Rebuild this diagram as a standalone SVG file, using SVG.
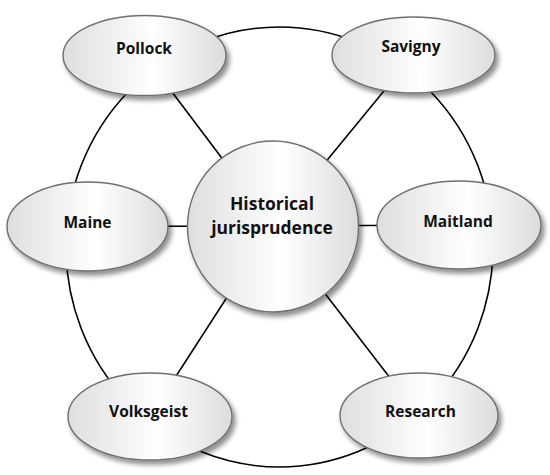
<svg xmlns="http://www.w3.org/2000/svg" width="550" height="475" viewBox="0 0 550 475">
  <defs>
    <linearGradient id="g" x1="0" y1="0" x2="1" y2="0">
      <stop offset="0" stop-color="#dedede"/>
      <stop offset="0.55" stop-color="#ffffff"/>
      <stop offset="1" stop-color="#dcdcdc"/>
    </linearGradient>
    <filter id="sh" x="-20%" y="-20%" width="150%" height="150%">
      <feGaussianBlur in="SourceAlpha" stdDeviation="2.5"/>
      <feOffset dx="3" dy="4" result="b"/>
      <feComponentTransfer><feFuncA type="linear" slope="0.45"/></feComponentTransfer>
      <feMerge><feMergeNode/><feMergeNode in="SourceGraphic"/></feMerge>
    </filter>
    <style>
      .n { fill: url(#g); stroke: #6f6f6f; stroke-width: 1.4; filter: url(#sh); }
      .t { font-family: "Open Sans", "Noto Sans", sans-serif; font-weight: 700; font-size: 15.5px; fill: #111; text-anchor: middle; }
      .c { font-size: 17.5px; }
      .ln { stroke: #000; stroke-width: 1.6; fill: none; }
    </style>
  </defs>
  <rect width="550" height="475" fill="#fff"/>
  <g id="connectors">
    <ellipse class="ln" cx="279.5" cy="247" rx="213.5" ry="220" stroke-width="2"/>
    <line class="ln" x1="273" y1="226" x2="144.5" y2="55.5"/>
    <line class="ln" x1="273" y1="226" x2="413.5" y2="55"/>
    <line class="ln" x1="273" y1="226" x2="87.5" y2="226.5"/>
    <line class="ln" x1="273" y1="226" x2="459" y2="225"/>
    <line class="ln" x1="273" y1="226" x2="150" y2="416.5"/>
    <line class="ln" x1="273" y1="226" x2="419" y2="415.5"/>
  </g>
  <g id="pollock">
    <ellipse class="n" cx="144.5" cy="55.5" rx="81.5" ry="40"/>
    <text class="t" x="144" y="54">Pollock</text>
  </g>
  <g id="savigny">
    <ellipse class="n" cx="413.5" cy="55" rx="81.5" ry="38"/>
    <text class="t" x="411" y="52">Savigny</text>
  </g>
  <g id="maine">
    <ellipse class="n" cx="87.5" cy="226.5" rx="80.5" ry="44.5"/>
    <text class="t" x="87.5" y="228">Maine</text>
  </g>
  <g id="maitland">
    <ellipse class="n" cx="459" cy="225" rx="82" ry="44"/>
    <text class="t" x="458" y="227">Maitland</text>
  </g>
  <g id="volksgeist">
    <ellipse class="n" cx="150" cy="416.5" rx="82" ry="43.5"/>
    <text class="t" x="148.5" y="417">Volksgeist</text>
  </g>
  <g id="research">
    <ellipse class="n" cx="419" cy="415.5" rx="79" ry="42.5"/>
    <text class="t" x="420.5" y="416.5">Research</text>
  </g>
  <g id="center">
    <circle class="n" cx="273" cy="226.5" r="85.5"/>
    <text class="t c" x="272" y="210"><tspan x="272" y="210">Historical</tspan><tspan x="272" y="234">jurisprudence</tspan></text>
  </g>
</svg>
